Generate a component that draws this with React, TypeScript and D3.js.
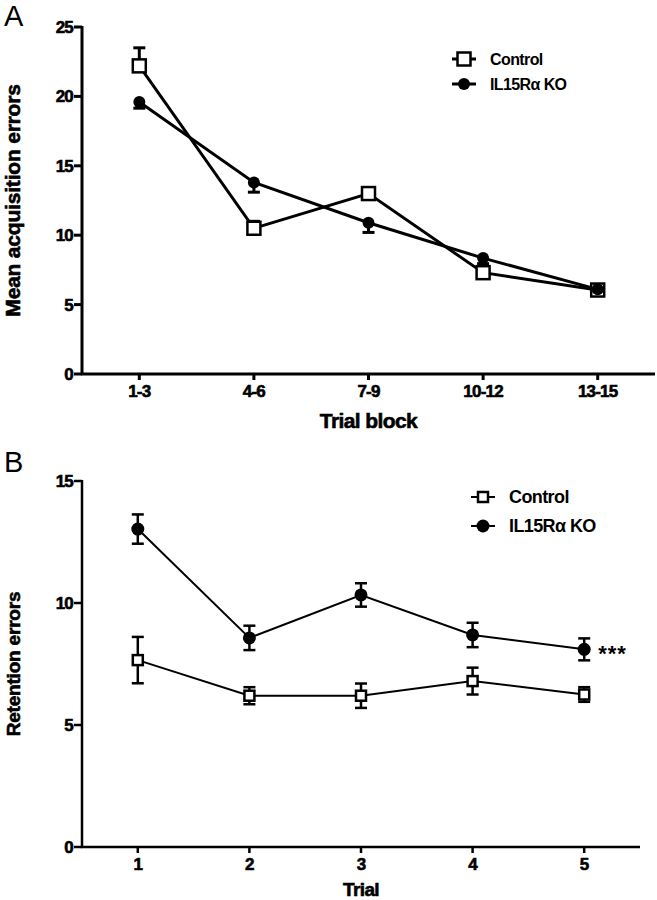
import * as d3 from 'd3'

// Panel A: acquisition
const acqBlocks = ['1-3', '4-6', '7-9', '10-12', '13-15']
const acqControl = [22.2, 10.5, 13.0, 7.3, 6.05]
const acqControlErr = [1.3, 0.5, 0.4, 0.4, 0.3]
const acqKO = [19.6, 13.8, 10.9, 8.35, 6.1]
const acqKOErr = [0.45, 0.7, 0.7, 0.4, 0.3]
const acqTicks = [0, 5, 10, 15, 20, 25]

// Panel B: retention
const retTrials = ['1', '2', '3', '4', '5']
const retControl = [7.66, 6.2, 6.2, 6.8, 6.25]
const retControlErr = [0.95, 0.35, 0.5, 0.55, 0.3]
const retKO = [13.03, 8.57, 10.33, 8.69, 8.1]
const retKOErr = [0.6, 0.5, 0.48, 0.5, 0.45]
const retTicks = [0, 5, 10, 15]

const legendNames = ['Control', 'IL15R\u03b1 KO']

const FONT = '"Liberation Sans", Arial, Helvetica, sans-serif'

type PanelProps = {
  cats: string[]
  control: number[]
  controlErr: number[]
  ko: number[]
  koErr: number[]
  ticks: number[]
  yMax: number
  left: number
  right: number
  top: number
  bottom: number
  letter: string
  letterY: number
  xTitle: string
  yTitle: string
  xTitleY: number
  titleSize: number
  lineW: number
  axisW: number
  sq: number
  r: number
  bothErr: boolean
  legendX: number
  legendY: number
  legendGap: number
  legendSize: number
  stars?: boolean
}

function Panel(p: PanelProps) {
  const x = d3.scalePoint<string>().domain(p.cats).range([p.left, p.right]).padding(0.5)
  const y = d3.scaleLinear().domain([0, p.yMax]).range([p.bottom, p.top])
  const line = d3
    .line<number>()
    .x((_, i) => x(p.cats[i]) as number)
    .y((d) => y(d))
  const cap = 6
  const errBars = (vals: number[], errs: number[], dir: number, key: string) =>
    vals.map((v, i) => {
      const cx = x(p.cats[i]) as number
      const dirs = p.bothErr ? [1, -1] : [dir]
      return dirs.map((d) => {
        const ye = y(v + d * errs[i])
        return (
          <g key={key + i + d}>
            <line x1={cx} x2={cx} y1={y(v)} y2={ye} stroke="#000" strokeWidth={p.axisW} />
            <line x1={cx - cap} x2={cx + cap} y1={ye} y2={ye} stroke="#000" strokeWidth={p.axisW} />
          </g>
        )
      })
    })
  const square = (cx: number, cy: number, k: string) => (
    <rect
      key={k}
      x={cx - p.sq / 2}
      y={cy - p.sq / 2}
      width={p.sq}
      height={p.sq}
      fill="#fff"
      stroke="#000"
      strokeWidth={2.5}
    />
  )
  const lx = p.legendX
  const heavy = { stroke: '#000', strokeWidth: 0.6 }
  return (
    <g fontFamily={FONT} fontWeight="bold">
      <text x={4} y={p.letterY} fontSize={29} fontWeight="normal">
        {p.letter}
      </text>
      {/* axes */}
      <line x1={p.left} x2={p.left} y1={p.top - 1} y2={p.bottom} stroke="#000" strokeWidth={p.axisW} />
      <line x1={p.left - 1} x2={p.right} y1={p.bottom} y2={p.bottom} stroke="#000" strokeWidth={p.axisW} />
      {p.ticks.map((t) => (
        <g key={t}>
          <line x1={p.left - 8} x2={p.left} y1={y(t)} y2={y(t)} stroke="#000" strokeWidth={p.axisW} />
          <text x={p.left - 9} y={y(t) + 6} fontSize={17} textAnchor="end" letterSpacing={-0.8} {...heavy}>
            {t}
          </text>
        </g>
      ))}
      {p.cats.map((c) => (
        <g key={c}>
          <line x1={x(c)} x2={x(c)} y1={p.bottom} y2={p.bottom + 6} stroke="#000" strokeWidth={p.axisW} />
          <text x={x(c)} y={p.bottom + 23} fontSize={17} textAnchor="middle" letterSpacing={-0.8} {...heavy}>
            {c}
          </text>
        </g>
      ))}
      <text
        x={(p.left + p.right) / 2}
        y={p.xTitleY}
        fontSize={p.titleSize}
        textAnchor="middle"
        letterSpacing={-0.6}
        {...heavy}
      >
        {p.xTitle}
      </text>
      <text
        transform={`translate(20,${(p.top + p.bottom) / 2}) rotate(-90)`}
        fontSize={p.titleSize}
        textAnchor="middle"
        letterSpacing={-0.2}
        {...heavy}
      >
        {p.yTitle}
      </text>
      {/* series */}
      <path d={line(p.control) as string} fill="none" stroke="#000" strokeWidth={p.lineW} />
      <path d={line(p.ko) as string} fill="none" stroke="#000" strokeWidth={p.lineW} />
      {errBars(p.control, p.controlErr, 1, 'ce')}
      {errBars(p.ko, p.koErr, -1, 'ke')}
      {p.control.map((v, i) => square(x(p.cats[i]) as number, y(v), 'cs' + i))}
      {p.ko.map((v, i) => (
        <circle key={'kc' + i} cx={x(p.cats[i])} cy={y(v)} r={p.r} fill="#000" />
      ))}
      {p.stars && (
        <text x={(x(p.cats[4]) as number) + 14} y={y(p.ko[4]) + 12} fontSize={22} letterSpacing={1}>
          ***
        </text>
      )}
      {/* legend */}
      {legendNames.map((n, i) => {
        const ly = p.legendY + i * p.legendGap
        return (
          <g key={n}>
            <line x1={lx - 12} x2={lx + 12} y1={ly} y2={ly} stroke="#000" strokeWidth={p.lineW} />
            {i === 0 ? square(lx, ly, 'ls') : <circle cx={lx} cy={ly} r={p.r} fill="#000" />}
            <text x={lx + 26} y={ly + 6} fontSize={p.legendSize} letterSpacing={-0.6}>
              {n}
            </text>
          </g>
        )
      })}
    </g>
  )
}

export default function App() {
  return (
    <svg
      width={657}
      height={900}
      style={{ position: 'absolute', left: 0, top: 0, background: '#fff' }}
    >
      <rect width={657} height={900} fill="#fff" />
      <Panel
        cats={acqBlocks}
        control={acqControl}
        controlErr={acqControlErr}
        ko={acqKO}
        koErr={acqKOErr}
        ticks={acqTicks}
        yMax={25}
        left={82}
        right={655}
        top={27}
        bottom={374}
        letter="A"
        letterY={26}
        xTitle="Trial block"
        yTitle="Mean acquisition errors"
        xTitleY={428}
        titleSize={21}
        lineW={3}
        axisW={3}
        sq={13}
        r={6}
        bothErr={false}
        legendX={464}
        legendY={59}
        legendGap={25}
        legendSize={16}
      />
      <Panel
        cats={retTrials}
        control={retControl}
        controlErr={retControlErr}
        ko={retKO}
        koErr={retKOErr}
        ticks={retTicks}
        yMax={15}
        left={82}
        right={640}
        top={481}
        bottom={847}
        letter="B"
        letterY={472}
        xTitle="Trial"
        yTitle="Retention errors"
        xTitleY={896}
        titleSize={19}
        lineW={2}
        axisW={2.5}
        sq={10}
        r={6.5}
        bothErr={true}
        legendX={483}
        legendY={497}
        legendGap={29}
        legendSize={18}
        stars
      />
    </svg>
  )
}
